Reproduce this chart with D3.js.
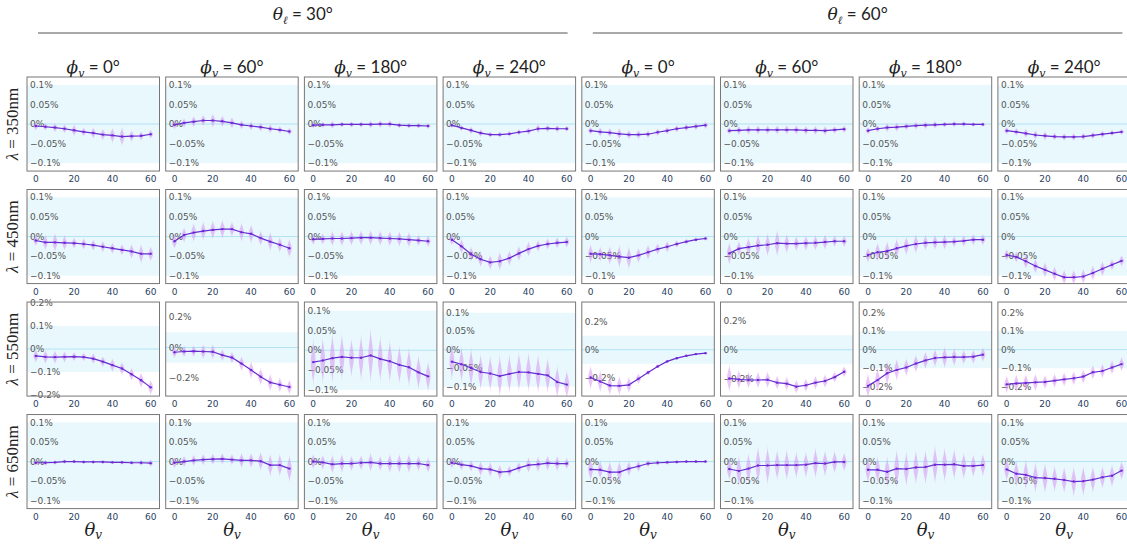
<!DOCTYPE html>
<html>
<head>
<meta charset="utf-8">
<script src="https://cdn.jsdelivr.net/npm/d3@7"></script>
<style>
  body { margin: 0; background: #fff; }
  svg { display: block; }
</style>
</head>
<body>
<script>
// Viewing angle samples (theta_v)
var thetaV = [0, 5, 10, 15, 20, 25, 30, 35, 40, 45, 50, 55, 60];

// Light / view azimuth groups
var lightAngles = ['30°', '60°'];
var phiAngles = ['0°', '60°', '180°', '240°'];
var wavelengths = ['350nm', '450nm', '550nm', '650nm'];

// Mean relative error (%) per panel, columns: [θl=30: φ 0,60,180,240, θl=60: φ 0,60,180,240]
var mean350 = [
  [-0.005, -0.007, -0.009, -0.012, -0.016, -0.02, -0.023, -0.027, -0.029, -0.032, -0.031, -0.03, -0.026],
  [-0.002, 0.003, 0.006, 0.009, 0.009, 0.007, 0.003, -0.002, -0.005, -0.008, -0.012, -0.015, -0.019],
  [-0.003, -0.002, -0.002, -0.001, -0.001, -0.001, -0.001, 0, 0, -0.003, -0.004, -0.004, -0.005],
  [-0.003, -0.01, -0.016, -0.023, -0.027, -0.027, -0.025, -0.021, -0.018, -0.012, -0.011, -0.012, -0.012],
  [-0.017, -0.02, -0.022, -0.025, -0.027, -0.027, -0.026, -0.021, -0.017, -0.012, -0.009, -0.006, -0.003],
  [-0.017, -0.016, -0.015, -0.015, -0.015, -0.015, -0.015, -0.015, -0.016, -0.016, -0.017, -0.015, -0.013],
  [-0.017, -0.012, -0.009, -0.008, -0.006, -0.004, -0.003, -0.002, -0.001, 0, 0, -0.001, -0.001],
  [-0.017, -0.02, -0.024, -0.028, -0.03, -0.032, -0.033, -0.033, -0.032, -0.029, -0.026, -0.023, -0.02]
];
var mean450 = [
  [-0.01, -0.015, -0.015, -0.016, -0.017, -0.019, -0.022, -0.026, -0.03, -0.034, -0.038, -0.044, -0.044],
  [-0.012, 0.004, 0.01, 0.014, 0.017, 0.019, 0.019, 0.011, 0.007, -0.004, -0.013, -0.021, -0.03],
  [-0.007, -0.006, -0.005, -0.005, -0.004, -0.003, -0.003, -0.004, -0.005, -0.006, -0.008, -0.01, -0.012],
  [-0.008, -0.025, -0.045, -0.058, -0.066, -0.063, -0.055, -0.043, -0.032, -0.024, -0.019, -0.016, -0.014],
  [-0.044, -0.045, -0.048, -0.051, -0.054, -0.048, -0.04, -0.032, -0.026, -0.019, -0.013, -0.008, -0.005],
  [-0.043, -0.031, -0.027, -0.023, -0.021, -0.017, -0.018, -0.018, -0.017, -0.016, -0.014, -0.012, -0.012],
  [-0.047, -0.04, -0.037, -0.03, -0.024, -0.019, -0.016, -0.015, -0.014, -0.013, -0.011, -0.008, -0.008],
  [-0.047, -0.052, -0.063, -0.075, -0.085, -0.095, -0.104, -0.104, -0.102, -0.093, -0.082, -0.072, -0.062]
];
var mean550 = [
  [-0.03, -0.034, -0.035, -0.034, -0.033, -0.035, -0.042, -0.055, -0.07, -0.085, -0.11, -0.136, -0.167],
  [-0.031, -0.026, -0.024, -0.026, -0.028, -0.05, -0.066, -0.106, -0.148, -0.193, -0.23, -0.245, -0.26],
  [-0.03, -0.026, -0.02, -0.017, -0.019, -0.019, -0.013, -0.022, -0.028, -0.037, -0.043, -0.056, -0.066],
  [-0.032, -0.039, -0.049, -0.06, -0.064, -0.071, -0.065, -0.06, -0.061, -0.065, -0.069, -0.087, -0.094],
  [-0.198, -0.226, -0.255, -0.257, -0.25, -0.207, -0.162, -0.119, -0.083, -0.06, -0.043, -0.031, -0.024],
  [-0.198, -0.205, -0.209, -0.209, -0.207, -0.227, -0.234, -0.255, -0.245, -0.227, -0.216, -0.189, -0.152],
  [-0.195, -0.164, -0.127, -0.109, -0.096, -0.075, -0.058, -0.045, -0.042, -0.04, -0.04, -0.038, -0.027],
  [-0.187, -0.182, -0.179, -0.176, -0.174, -0.167, -0.16, -0.154, -0.145, -0.122, -0.115, -0.096, -0.078]
];
var mean650 = [
  [-0.003, -0.003, -0.002, 0, 0, -0.001, -0.001, -0.001, -0.002, -0.002, -0.003, -0.003, -0.004],
  [-0.003, 0, 0.003, 0.005, 0.006, 0.007, 0.005, 0.003, 0.003, 0.001, -0.009, -0.009, -0.018],
  [0, -0.002, -0.007, -0.005, -0.005, -0.003, -0.002, -0.005, -0.005, -0.005, -0.005, -0.005, -0.009],
  [-0.003, -0.008, -0.011, -0.018, -0.02, -0.027, -0.025, -0.016, -0.009, -0.007, -0.004, -0.005, -0.005],
  [-0.02, -0.021, -0.027, -0.027, -0.018, -0.012, -0.005, -0.003, -0.002, -0.001, 0, 0, 0],
  [-0.019, -0.024, -0.018, -0.01, -0.01, -0.009, -0.009, -0.009, -0.008, -0.004, -0.005, -0.001, -0.001],
  [-0.021, -0.021, -0.026, -0.018, -0.019, -0.015, -0.014, -0.008, -0.008, -0.007, -0.011, -0.011, -0.009],
  [-0.02, -0.031, -0.034, -0.041, -0.042, -0.044, -0.047, -0.051, -0.05, -0.046, -0.04, -0.036, -0.023]
];

// Half-height of the distribution shown as a violin at each point (%)
var spread350 = [
  [0.012, 0.01, 0.012, 0.012, 0.015, 0.012, 0.015, 0.015, 0.02, 0.025, 0.015, 0.012, 0.012],
  [0.012, 0.012, 0.015, 0.015, 0.018, 0.015, 0.015, 0.012, 0.012, 0.012, 0.012, 0.01, 0.01],
  [0.008, 0.008, 0.01, 0.008, 0.008, 0.008, 0.01, 0.01, 0.01, 0.008, 0.008, 0.008, 0.008],
  [0.008, 0.008, 0.01, 0.01, 0.008, 0.008, 0.008, 0.008, 0.01, 0.012, 0.01, 0.01, 0.008],
  [0.01, 0.012, 0.012, 0.015, 0.012, 0.012, 0.01, 0.01, 0.01, 0.01, 0.01, 0.01, 0.01],
  [0.01, 0.012, 0.012, 0.012, 0.012, 0.012, 0.012, 0.012, 0.012, 0.012, 0.012, 0.01, 0.01],
  [0.01, 0.01, 0.012, 0.012, 0.01, 0.01, 0.01, 0.01, 0.008, 0.008, 0.008, 0.006, 0.006],
  [0.01, 0.01, 0.012, 0.012, 0.012, 0.01, 0.01, 0.01, 0.01, 0.01, 0.01, 0.008, 0.008]
];
var spread450 = [
  [0.015, 0.02, 0.025, 0.02, 0.015, 0.015, 0.015, 0.015, 0.015, 0.015, 0.02, 0.025, 0.02],
  [0.02, 0.02, 0.025, 0.025, 0.025, 0.025, 0.02, 0.025, 0.025, 0.02, 0.025, 0.02, 0.025],
  [0.015, 0.015, 0.02, 0.02, 0.02, 0.02, 0.02, 0.02, 0.02, 0.02, 0.02, 0.015, 0.015],
  [0.015, 0.02, 0.02, 0.02, 0.02, 0.025, 0.02, 0.02, 0.02, 0.015, 0.015, 0.015, 0.015],
  [0.025, 0.02, 0.025, 0.03, 0.03, 0.02, 0.02, 0.015, 0.015, 0.01, 0.008, 0.006, 0.006],
  [0.03, 0.02, 0.025, 0.03, 0.03, 0.035, 0.025, 0.02, 0.02, 0.02, 0.02, 0.015, 0.015],
  [0.02, 0.025, 0.025, 0.025, 0.025, 0.025, 0.02, 0.02, 0.02, 0.015, 0.015, 0.015, 0.015],
  [0.015, 0.015, 0.02, 0.02, 0.02, 0.02, 0.02, 0.02, 0.02, 0.02, 0.02, 0.015, 0.015]
];
var spread550 = [
  [0.03, 0.03, 0.03, 0.025, 0.02, 0.02, 0.025, 0.025, 0.03, 0.03, 0.03, 0.035, 0.035],
  [0.04, 0.04, 0.04, 0.05, 0.05, 0.04, 0.04, 0.05, 0.06, 0.06, 0.06, 0.05, 0.05],
  [0.06, 0.06, 0.065, 0.06, 0.05, 0.06, 0.07, 0.06, 0.055, 0.05, 0.05, 0.045, 0.04],
  [0.05, 0.05, 0.055, 0.05, 0.05, 0.06, 0.055, 0.055, 0.055, 0.055, 0.05, 0.045, 0.04],
  [0.09, 0.08, 0.07, 0.07, 0.06, 0.04, 0.02, 0.015, 0.01, 0.008, 0.006, 0.006, 0.006],
  [0.1, 0.07, 0.06, 0.06, 0.06, 0.05, 0.05, 0.05, 0.05, 0.05, 0.05, 0.04, 0.04],
  [0.07, 0.07, 0.07, 0.06, 0.05, 0.05, 0.05, 0.05, 0.06, 0.05, 0.04, 0.04, 0.04],
  [0.05, 0.05, 0.05, 0.05, 0.04, 0.04, 0.04, 0.04, 0.04, 0.04, 0.04, 0.04, 0.04]
];
var spread650 = [
  [0.008, 0.008, 0.006, 0.006, 0.005, 0.005, 0.005, 0.005, 0.005, 0.006, 0.006, 0.008, 0.01],
  [0.015, 0.015, 0.015, 0.015, 0.015, 0.015, 0.015, 0.02, 0.02, 0.025, 0.03, 0.03, 0.035],
  [0.02, 0.02, 0.025, 0.025, 0.02, 0.02, 0.025, 0.02, 0.025, 0.025, 0.025, 0.02, 0.02],
  [0.015, 0.015, 0.015, 0.02, 0.02, 0.02, 0.015, 0.015, 0.02, 0.02, 0.02, 0.02, 0.015],
  [0.03, 0.025, 0.03, 0.03, 0.02, 0.015, 0.01, 0.008, 0.006, 0.005, 0.004, 0.004, 0.004],
  [0.03, 0.04, 0.04, 0.05, 0.05, 0.04, 0.04, 0.035, 0.035, 0.04, 0.035, 0.03, 0.025],
  [0.035, 0.035, 0.04, 0.05, 0.045, 0.045, 0.045, 0.05, 0.045, 0.04, 0.035, 0.03, 0.03],
  [0.03, 0.035, 0.04, 0.04, 0.04, 0.035, 0.035, 0.04, 0.04, 0.035, 0.03, 0.03, 0.025]
];

var means = [mean350, mean450, mean550, mean650];
var spreads = [spread350, spread450, spread550, spread650];

// y axis ranges [min, max, tick step] per panel (row 550nm varies)
var yAxis = function (row, col) {
  var r550 = [
    [-0.205, 0.205, 0.1], [-0.32, 0.30, 0.2], [-0.116, 0.122, 0.05], [-0.125, 0.129, 0.05],
    [-0.33, 0.34, 0.2], [-0.32, 0.33, 0.2], [-0.25, 0.256, 0.1], [-0.25, 0.256, 0.1]
  ];
  if (row === 2) return r550[col];
  return [-0.12, 0.12, 0.05];
};

var width = 1127;
var height = 544;

var svg = d3.select('body').append('svg')
  .attr('width', width)
  .attr('height', height)
  .attr('font-family', 'DejaVu Sans, Verdana, sans-serif');

var colScale = d3.scaleBand()
  .domain(d3.range(8))
  .range([27, 1130.4])
  .paddingInner(0.0447);
var rowScale = d3.scaleBand()
  .domain(d3.range(4))
  .range([77, 508.6])
  .paddingInner(0.164);

var bw = colScale.bandwidth();
var bh = rowScale.bandwidth();

var fmt = d3.format('.2~f');
var serif = 'DejaVu Serif, Liberation Serif, serif';

// Violin outline (half-width in px along the normalised height)
var violinProfile = d3.range(-1, 1.0001, 0.1).map(function (t) {
  var w = 1 - t * t;
  return { t: t, w: 2.4 * w * w * w };
});

var defs = svg.append('defs');

d3.range(4).forEach(function (row) {
  d3.range(8).forEach(function (col) {
    var x0 = colScale(col);
    var y0 = rowScale(row);
    var ax = yAxis(row, col);
    var x = d3.scaleLinear().domain([-4.6, 64.6]).range([0, bw]);
    var y = d3.scaleLinear().domain([ax[0], ax[1]]).range([bh, 0]);
    var g = svg.append('g').attr('transform', 'translate(' + x0 + ',' + y0 + ')');

    var clipId = 'clip-' + row + '-' + col;
    defs.append('clipPath').attr('id', clipId)
      .append('rect').attr('width', bw).attr('height', bh);

    // band of +-0.1%
    g.append('rect')
      .attr('x', 0)
      .attr('width', bw)
      .attr('y', y(0.1))
      .attr('height', y(-0.1) - y(0.1))
      .attr('fill', '#e8f8fd');

    // zero line
    g.append('line')
      .attr('x1', 0).attr('x2', bw)
      .attr('y1', y(0)).attr('y2', y(0))
      .attr('stroke', '#b3e3f3')
      .attr('stroke-width', 1);

    // y tick labels (inside)
    var step = ax[2];
    var ticks = d3.range(Math.ceil(ax[0] / step - 1e-9), Math.floor(ax[1] / step + 1e-9) + 1)
      .map(function (k) { return k * step; });
    g.selectAll('.ytick')
      .data(ticks)
      .enter()
      .append('text')
      .attr('class', 'ytick')
      .attr('x', 3)
      .attr('y', function (d) { return y(d); })
      .attr('dy', '0.35em')
      .attr('font-size', 9)
      .attr('fill', '#555')
      .text(function (d) { return fmt(d) + '%'; });

    // x tick labels
    g.selectAll('.xtick')
      .data([0, 20, 40, 60])
      .enter()
      .append('text')
      .attr('class', 'xtick')
      .attr('x', function (d) { return x(d); })
      .attr('y', bh + 8)
      .attr('dy', '0.35em')
      .attr('text-anchor', 'middle')
      .attr('font-size', 9)
      .attr('fill', '#2a3f5f')
      .text(function (d) { return d; });

    var pts = thetaV.map(function (t, i) {
      return { t: t, v: means[row][col][i], s: spreads[row][col][i] };
    });

    var plot = g.append('g').attr('clip-path', 'url(#' + clipId + ')');

    // violins
    plot.selectAll('.violin')
      .data(pts)
      .enter()
      .append('path')
      .attr('class', 'violin')
      .attr('fill', 'rgba(212, 140, 242, 0.5)')
      .attr('d', function (d) {
        var cx = x(d.t);
        return d3.area()
          .curve(d3.curveBasis)
          .y(function (p) { return y(d.v + p.t * d.s * 1.1); })
          .x0(function (p) { return cx - p.w; })
          .x1(function (p) { return cx + p.w; })(violinProfile);
      });

    // mean line
    plot.append('path')
      .datum(pts)
      .attr('fill', 'none')
      .attr('stroke', '#6a2bd3')
      .attr('stroke-width', 1.2)
      .attr('d', d3.line()
        .x(function (d) { return x(d.t); })
        .y(function (d) { return y(d.v); }));

    plot.selectAll('.dot')
      .data(pts)
      .enter()
      .append('circle')
      .attr('class', 'dot')
      .attr('cx', function (d) { return x(d.t); })
      .attr('cy', function (d) { return y(d.v); })
      .attr('r', 1.2)
      .attr('fill', '#6a2bd3');

    // frame
    g.append('rect')
      .attr('width', bw)
      .attr('height', bh)
      .attr('fill', 'none')
      .attr('stroke', '#777')
      .attr('stroke-width', 1);
  });
});

// Column titles: phi_v
d3.range(8).forEach(function (col) {
  var t = svg.append('text')
    .attr('x', colScale(col) + bw / 2)
    .attr('y', 73)
    .attr('text-anchor', 'middle')
    .attr('font-size', 17)
    .attr('fill', '#222');
  t.append('tspan').attr('font-family', serif).attr('font-style', 'italic').text('ϕ');
  t.append('tspan').attr('font-family', serif).attr('font-style', 'italic')
    .attr('font-size', 11).attr('dy', 4).text('v');
  t.append('tspan').attr('font-family', 'Lato, sans-serif').attr('dy', -4)
    .text(' = ' + phiAngles[col % 4]);
});

// Group titles: theta_l with rule underneath
lightAngles.forEach(function (a, k) {
  var left = colScale(k * 4) + 11;
  var right = colScale(k * 4 + 3) + bw - 8;
  svg.append('line')
    .attr('x1', left).attr('x2', right)
    .attr('y1', 33).attr('y2', 33)
    .attr('stroke', '#555')
    .attr('stroke-width', 1);
  var t = svg.append('text')
    .attr('x', (left + right) / 2)
    .attr('y', 20)
    .attr('text-anchor', 'middle')
    .attr('font-size', 17)
    .attr('fill', '#222');
  t.append('tspan').attr('font-family', serif).attr('font-style', 'italic').text('θ');
  t.append('tspan').attr('font-family', serif).attr('font-style', 'italic')
    .attr('font-size', 11).attr('dy', 4).text('ℓ');
  t.append('tspan').attr('font-family', 'Lato, sans-serif').attr('dy', -4)
    .text(' = ' + a);
});

// Row titles: lambda
wavelengths.forEach(function (w, row) {
  var cy = rowScale(row) + bh / 2;
  var t = svg.append('text')
    .attr('transform', 'translate(18,' + cy + ') rotate(-90)')
    .attr('text-anchor', 'middle')
    .attr('font-size', 17)
    .attr('font-family', 'Liberation Serif, serif')
    .attr('fill', '#222');
  t.append('tspan').attr('font-style', 'italic').text('λ');
  t.append('tspan').text(' = ' + w);
});

// x axis titles: theta_v
d3.range(8).forEach(function (col) {
  var t = svg.append('text')
    .attr('x', colScale(col) + bw / 2)
    .attr('y', 536)
    .attr('text-anchor', 'middle')
    .attr('font-size', 18)
    .attr('font-family', serif)
    .attr('font-style', 'italic')
    .attr('fill', '#222');
  t.append('tspan').text('θ');
  t.append('tspan').attr('font-size', 12).attr('dy', 3).text('v');
});
</script>
</body>
</html>
